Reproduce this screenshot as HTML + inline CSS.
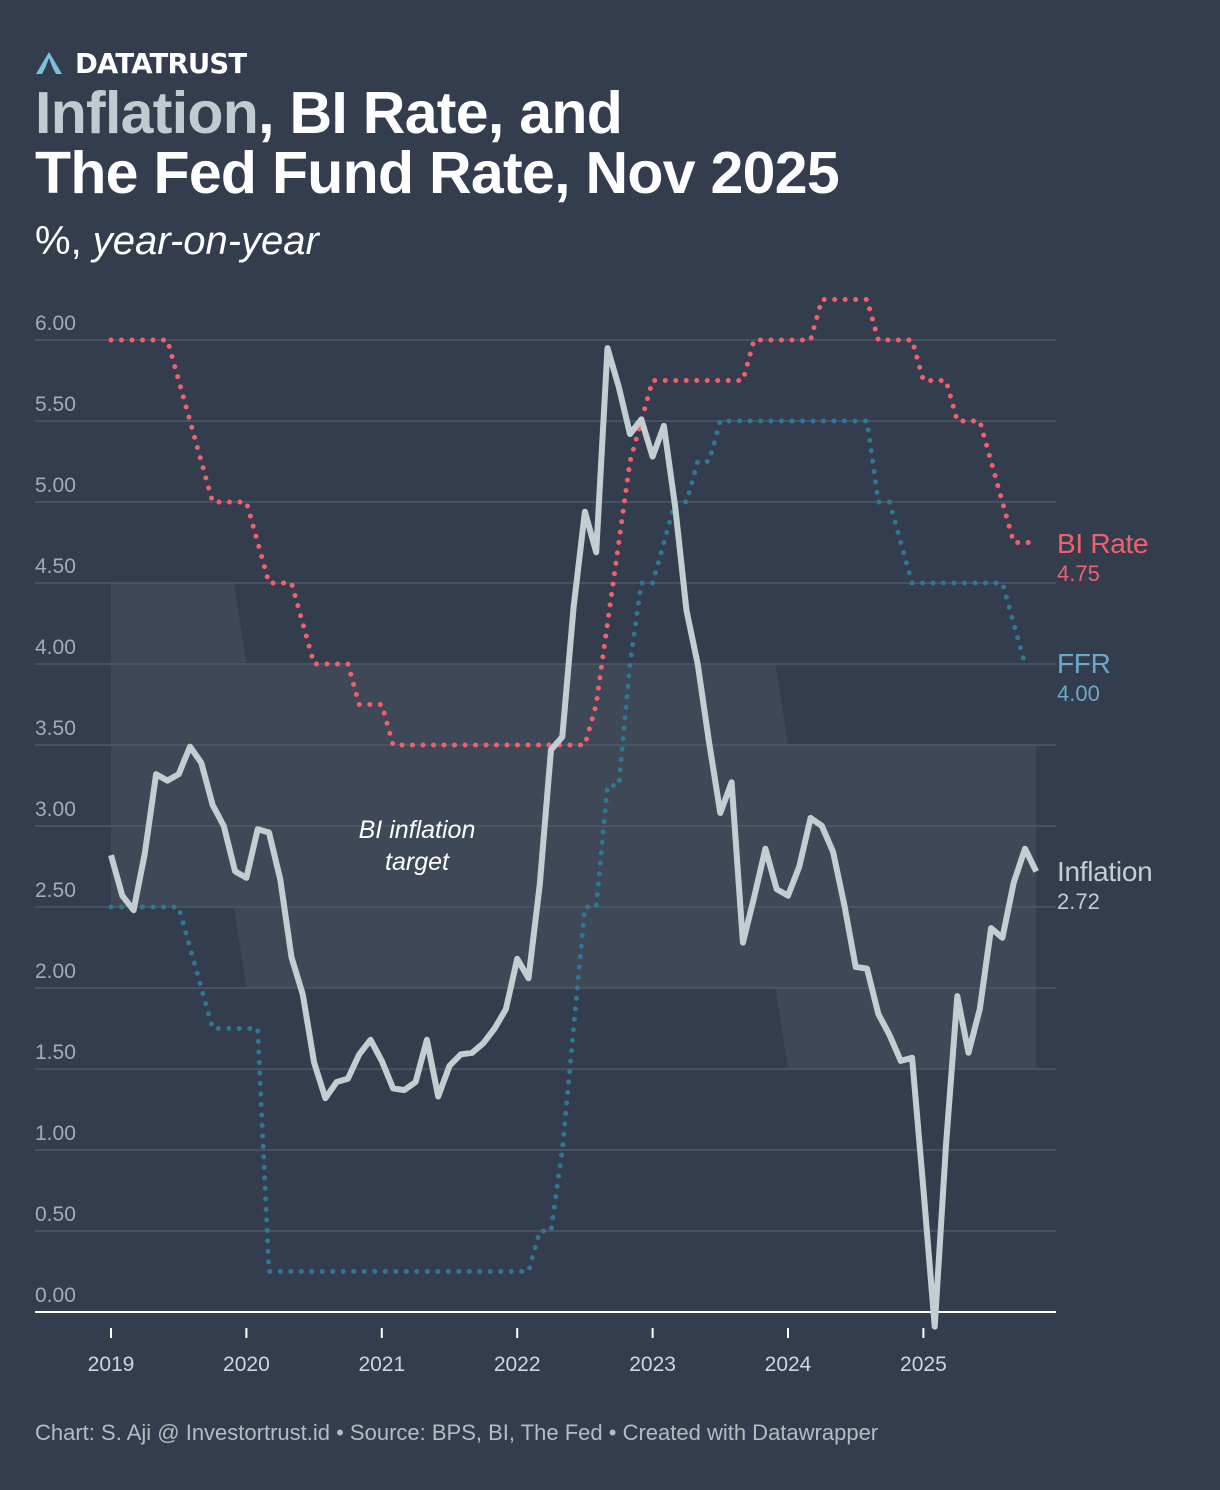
<!DOCTYPE html>
<html><head><meta charset="utf-8">
<style>
body{margin:0;background:#333d4d;font-family:"Liberation Sans",sans-serif;}
#wrap{position:relative;width:1220px;height:1490px;overflow:hidden;background:#333d4d;}
.t{position:absolute;white-space:nowrap;}
</style></head><body>
<div id="wrap">
<svg class="t" style="left:36px;top:52px" width="26" height="22" viewBox="0 0 26 22"><path d="M13 0 L26 22 L20 22 L13 9 L6 22 L0 22 Z" fill="#7cc0e0"/><path d="M13 6 L19 22 L16 22 L13 14 L10 22 L7 22 Z" fill="#333d4d"/></svg>
<div class="t" style="left:75px;top:48px;font-size:27.5px;font-weight:bold;color:#fff;font-family:'DejaVu Sans',sans-serif;letter-spacing:-0.8px;">DATATRUST</div>
<div class="t" style="left:35px;top:83px;font-size:59px;font-weight:bold;color:#fff;line-height:60px;letter-spacing:-0.7px;"><span style="color:#bfcbd0">Inflation</span>, BI Rate, and<br>The Fed Fund Rate, Nov 2025</div>
<div class="t" style="left:35px;top:219px;font-size:40px;color:#fff;">%, <i>year-on-year</i></div>
<svg id="chart" width="1220" height="1490" style="position:absolute;left:0;top:0"></svg>
<div class="t" style="left:35px;top:1420px;font-size:22px;color:#b4bcc4;">Chart: S. Aji @ Investortrust.id • Source: BPS, BI, The Fed • Created with Datawrapper</div>
</div>
<script>
const yTicks=[0,0.5,1,1.5,2,2.5,3,3.5,4,4.5,5,5.5,6];
const yearLabels=["2019","2020","2021","2022","2023","2024","2025"];
const inflation=[2.82,2.57,2.48,2.83,3.32,3.28,3.32,3.49,3.39,3.13,3.00,2.72,
2.68,2.98,2.96,2.67,2.19,1.96,1.54,1.32,1.42,1.44,1.59,1.68,
1.55,1.38,1.37,1.42,1.68,1.33,1.52,1.59,1.60,1.66,1.75,1.87,
2.18,2.06,2.64,3.47,3.55,4.35,4.94,4.69,5.95,5.71,5.42,5.51,
5.28,5.47,4.97,4.33,4.00,3.52,3.08,3.27,2.28,2.56,2.86,2.61,
2.57,2.75,3.05,3.00,2.84,2.51,2.13,2.12,1.84,1.71,1.55,1.57,
0.76,-0.09,1.03,1.95,1.60,1.87,2.37,2.31,2.65,2.86,2.72];
const biRate=[6,6,6,6,6,6,5.75,5.5,5.25,5,5,5,
5,4.75,4.5,4.5,4.5,4.25,4,4,4,4,3.75,3.75,
3.75,3.5,3.5,3.5,3.5,3.5,3.5,3.5,3.5,3.5,3.5,3.5,
3.5,3.5,3.5,3.5,3.5,3.5,3.5,3.75,4.25,4.75,5.25,5.5,
5.75,5.75,5.75,5.75,5.75,5.75,5.75,5.75,5.75,6,6,6,
6,6,6,6.25,6.25,6.25,6.25,6.25,6,6,6,6,
5.75,5.75,5.75,5.5,5.5,5.5,5.25,5,4.75,4.75,4.75];
const ffr=[2.5,2.5,2.5,2.5,2.5,2.5,2.5,2.25,2.0,1.75,1.75,1.75,
1.75,1.75,0.25,0.25,0.25,0.25,0.25,0.25,0.25,0.25,0.25,0.25,
0.25,0.25,0.25,0.25,0.25,0.25,0.25,0.25,0.25,0.25,0.25,0.25,
0.25,0.25,0.5,0.5,1.0,1.75,2.5,2.5,3.25,3.25,4.0,4.5,
4.5,4.75,5.0,5.0,5.25,5.25,5.5,5.5,5.5,5.5,5.5,5.5,
5.5,5.5,5.5,5.5,5.5,5.5,5.5,5.5,5.0,5.0,4.75,4.5,
4.5,4.5,4.5,4.5,4.5,4.5,4.5,4.5,4.25,4.0];
const targetTop=[4.5,4.0,3.5];
const targetBottom=[2.5,2.0,1.5];

const svg=document.getElementById('chart');
const NS='http://www.w3.org/2000/svg';
const x=m=>111+m*(135.4/12);
const y=v=>1312-v*162;
function mk(t,a){const e=document.createElementNS(NS,t);for(const k in a)e.setAttribute(k,a[k]);svg.appendChild(e);return e;}

const xa=x(10.9),xb=x(12),xc=x(58.9),xd=x(60),xe=x(82);
const band=mk('polygon',{points:[[x(0),y(targetTop[0])],[xa,y(targetTop[0])],[xb,y(targetTop[1])],[xc,y(targetTop[1])],[xd,y(targetTop[2])],[xe,y(targetTop[2])],[xe,y(targetBottom[2])],[xd,y(targetBottom[2])],[xc,y(targetBottom[1])],[xb,y(targetBottom[1])],[xa,y(targetBottom[0])],[x(0),y(targetBottom[0])]].map(p=>p.join(',')).join(' '),fill:'#3e4857'});



yTicks.forEach(v=>{
  if(v>0){const g=mk('line',{x1:35,x2:1056,y1:y(v),y2:y(v),stroke:'#4f5866','stroke-width':1.5});
  
  }
  const t=mk('text',{x:35,y:y(v)-10,fill:'#a3abb5','font-size':21});
  t.textContent=v.toFixed(2);
  
  
});
const bt=mk('text',{x:417,y:838,fill:'#fff','font-size':25,'font-style':'italic','text-anchor':'middle'});
bt.textContent='BI inflation';


const bt2=mk('text',{x:417,y:870,fill:'#fff','font-size':25,'font-style':'italic','text-anchor':'middle'});
bt2.textContent='target';


const ax=mk('line',{x1:35,x2:1056,y1:y(0),y2:y(0),stroke:'#fff','stroke-width':2});


yearLabels.forEach((l,i)=>{
  const tk=mk('line',{x1:x(i*12),x2:x(i*12),y1:1328,y2:1338,stroke:'#fff','stroke-width':2});
  
  
  const t=mk('text',{x:x(i*12),y:1371,fill:'#d0d6dc','font-size':21,'text-anchor':'middle'});
  t.textContent=l;
  
  
});
function path(arr){return arr.map((v,i)=>(i?'L':'M')+x(i).toFixed(1)+','+y(v).toFixed(1)).join('');}
const pf=mk('path',{d:path(ffr),fill:'none',stroke:'#2f7893','stroke-width':5,'stroke-linecap':'round','stroke-dasharray':'0 10.5'});


const pb=mk('path',{d:path(biRate),fill:'none',stroke:'#f2606b','stroke-width':5,'stroke-linecap':'round','stroke-dasharray':'0 10.5'});


const pi=mk('path',{d:path(inflation),fill:'none',stroke:'#c3ced2','stroke-width':6,'stroke-linejoin':'round'});



function lab(name,val,col,col2,ty){
  const a=mk('text',{x:1057,y:ty,fill:col,'font-size':28,'letter-spacing':'-0.3'});a.textContent=name;
  
  
  const b=mk('text',{x:1057,y:ty+28,fill:col2,'font-size':22});b.textContent=val.toFixed(2);
  
  
}
lab('BI Rate',biRate[biRate.length-1],'#f2606b','#f2606b',553);
lab('FFR',ffr[ffr.length-1],'#6aa9c8','#6aa9c8',673);
lab('Inflation',inflation[inflation.length-1],'#c3ced2','#c3ced2',881);
</script>
</body></html>
